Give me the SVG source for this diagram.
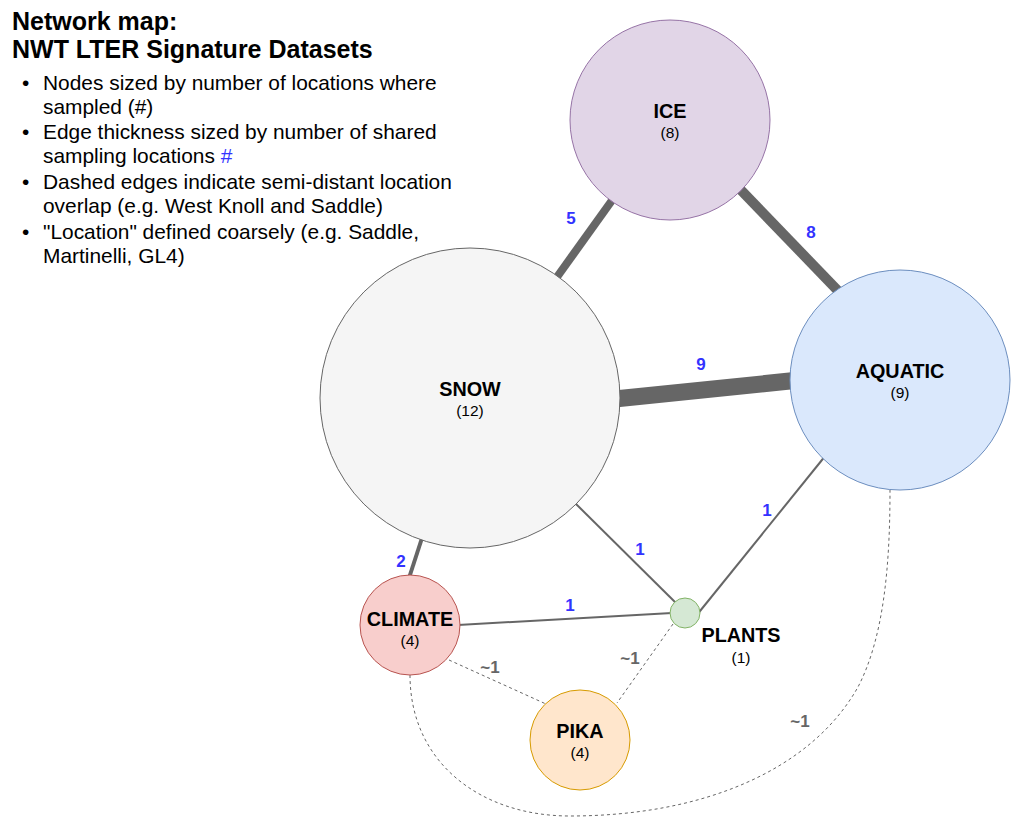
<svg xmlns="http://www.w3.org/2000/svg" width="1012" height="817" viewBox="0 0 1012 817">
<style>
text{font-family:"Liberation Sans",Arial,sans-serif;fill:#000}
.title{font-size:25px;font-weight:bold}
.body{font-size:20.9px}
.name{font-size:19.8px;font-weight:bold;text-anchor:middle}
.cnt{font-size:15.5px;text-anchor:middle}
.el{font-size:17px;font-weight:bold;text-anchor:middle;fill:#3333ff}
.dl{font-size:17px;font-weight:bold;text-anchor:middle;fill:#666666}
.e{stroke:#666666;fill:none}
.d{stroke:#666666;fill:none;stroke-width:1;stroke-dasharray:3 3}
</style>
<rect width="1012" height="817" fill="#ffffff"/>
<g id="legend">
<text class="title" x="12" y="30">Network map:</text>
<text class="title" x="12" y="58">NWT LTER Signature Datasets</text>
<text class="body" x="22" y="90">•</text>
<text class="body" x="43" y="90">Nodes sized by number of locations where</text>
<text class="body" x="43" y="114">sampled (#)</text>
<text class="body" x="22" y="139">•</text>
<text class="body" x="43" y="139">Edge thickness sized by number of shared</text>
<text class="body" x="43" y="163">sampling locations <tspan style="fill:#3333ff">#</tspan></text>
<text class="body" x="22" y="189">•</text>
<text class="body" x="43" y="189">Dashed edges indicate semi-distant location</text>
<text class="body" x="43" y="213">overlap (e.g. West Knoll and Saddle)</text>
<text class="body" x="22" y="239">•</text>
<text class="body" x="43" y="239">"Location" defined coarsely (e.g. Saddle,</text>
<text class="body" x="43" y="263">Martinelli, GL4)</text>
</g>
<g id="connectors">
<line class="e" x1="552" y1="284" x2="618" y2="192" stroke-width="8"/>
<line class="e" x1="737" y1="186" x2="843" y2="296" stroke-width="10"/>
<line class="e" x1="612" y1="399.3" x2="797" y2="380.3" stroke-width="17"/>
<line class="e" x1="422" y1="538" x2="409" y2="578" stroke-width="4"/>
<line class="e" x1="574" y1="502" x2="678" y2="605" stroke-width="2"/>
<line class="e" x1="458" y1="625" x2="672" y2="613" stroke-width="2"/>
<line class="e" x1="696" y1="616" x2="826" y2="455" stroke-width="2"/>
<line class="d" x1="449" y1="660" x2="546" y2="704"/>
<line class="d" x1="673" y1="624" x2="617" y2="703"/>
<path class="d" d="M 410 675 C 410 762, 480 816, 570 816 C 700 816, 810 772, 858 687 C 884 637, 890 565, 890 490"/>
<text class="el" x="571" y="224">5</text>
<text class="el" x="811" y="238">8</text>
<text class="el" x="701" y="370">9</text>
<text class="el" x="401" y="567">2</text>
<text class="el" x="640" y="555">1</text>
<text class="el" x="570" y="611">1</text>
<text class="el" x="767" y="516">1</text>
<text class="dl" x="490" y="673">~1</text>
<text class="dl" x="630" y="664">~1</text>
<text class="dl" x="800" y="727">~1</text>
</g>
<g id="node-ice">
<circle cx="670" cy="120" r="100" fill="#e1d5e7" stroke="#9673a6"/>
<text class="name" x="670" y="118">ICE</text>
<text class="cnt" x="670" y="138">(8)</text>
</g>
<g id="node-snow">
<circle cx="470" cy="398" r="150" fill="#f5f5f5" stroke="#666666"/>
<text class="name" x="470" y="396">SNOW</text>
<text class="cnt" x="470" y="416">(12)</text>
</g>
<g id="node-aquatic">
<circle cx="900" cy="380" r="110" fill="#dae8fc" stroke="#6c8ebf"/>
<text class="name" x="900" y="378">AQUATIC</text>
<text class="cnt" x="900" y="398">(9)</text>
</g>
<g id="node-climate">
<circle cx="410" cy="625" r="50" fill="#f8cecc" stroke="#b85450"/>
<text class="name" x="410" y="626">CLIMATE</text>
<text class="cnt" x="410" y="646">(4)</text>
</g>
<g id="node-pika">
<circle cx="580" cy="740" r="50" fill="#ffe6cc" stroke="#d79b00"/>
<text class="name" x="580" y="738">PIKA</text>
<text class="cnt" x="580" y="758">(4)</text>
</g>
<g id="node-plants">
<circle cx="685" cy="613" r="15" fill="#d5e8d4" stroke="#82b366"/>
<text class="name" x="741" y="642">PLANTS</text>
<text class="cnt" x="741" y="663">(1)</text>
</g>
</svg>
